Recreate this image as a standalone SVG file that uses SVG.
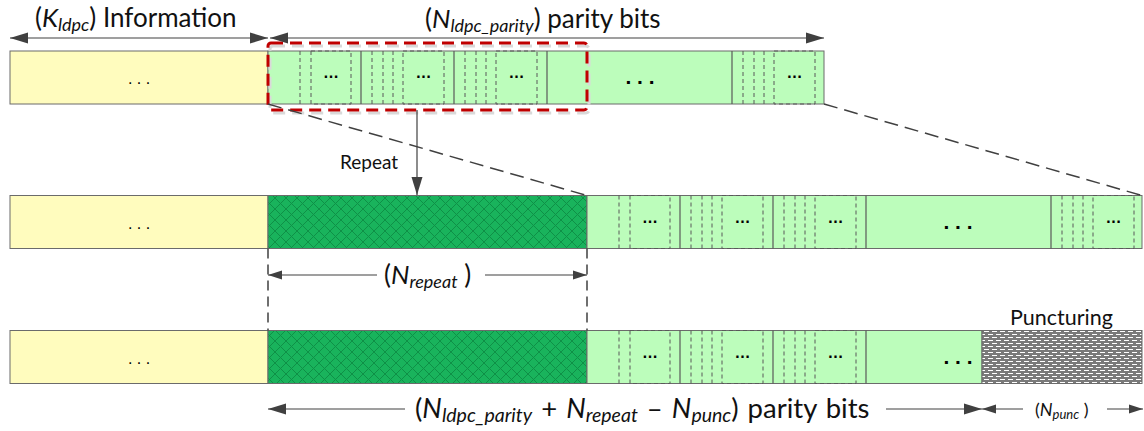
<svg xmlns="http://www.w3.org/2000/svg" xmlns:xlink="http://www.w3.org/1999/xlink" width="1144" height="431" viewBox="0 0 1144 431">
<style>
.bar{stroke:#6b6b6b;stroke-width:1}
.info{fill:#FFFCBE}
.par{fill:#BCFDBB}
.sol{stroke:#595959;stroke-width:1.2;fill:none}
.dsh{stroke:#595959;stroke-width:1;stroke-dasharray:4 3;fill:none}
.lbl{font-family:Lato,"Open Sans",sans-serif;font-size:26px;fill:#111}
.it{font-style:italic}
.sub{font-style:italic;font-size:18px}
.sm{font-family:Lato,"Open Sans",sans-serif;fill:#111}
.dots{font-family:"Liberation Sans",sans-serif;font-weight:bold;font-size:16px;fill:#000;text-anchor:middle}
.bigdots{font-family:"Liberation Sans",sans-serif;font-weight:bold;font-size:21px;fill:#000;text-anchor:middle}
.ydots{font-family:"Liberation Sans",sans-serif;font-size:16px;fill:#000;text-anchor:middle}
.conn{stroke:#404040;stroke-width:1.2;fill:none}
.gd{stroke:#404040;stroke-width:1.5;stroke-dasharray:14 7;fill:none}
</style>
<defs>
<marker id="ah" markerUnits="userSpaceOnUse" markerWidth="18" markerHeight="12" refX="18" refY="6" orient="auto-start-reverse" viewBox="0 0 18 12"><path d="M0,0.5 L18,6 L0,11.5 z" fill="#404040"/></marker>
<marker id="ahs" markerUnits="userSpaceOnUse" markerWidth="14" markerHeight="10" refX="14" refY="5" orient="auto-start-reverse" viewBox="0 0 14 10"><path d="M0,0.5 L14,5 L0,9.5 z" fill="#404040"/></marker>
<pattern id="hatch" patternUnits="userSpaceOnUse" width="11" height="11">
<rect width="11" height="11" fill="#19B35C"/>
<path d="M0,0 L11,11 M11,0 L0,11" stroke="#0F9047" stroke-width="1"/>
</pattern>
<pattern id="punc" patternUnits="userSpaceOnUse" width="8" height="6">
<rect width="8" height="6" fill="#7A7A7A"/>
<rect x="0" y="1" width="5" height="1" fill="#fff"/>
<rect x="4" y="4" width="5" height="1" fill="#fff"/>
<rect x="-4" y="4" width="5" height="1" fill="#fff"/>
</pattern>
<g id="blkA">
<path class="dsh" d="M32,0 V53"/>
<rect class="dsh" x="43" y="0" width="40" height="53"/>
<path class="sol" d="M93,0 V53"/>
<text class="dots" x="63" y="27">…</text>
</g>
<g id="blkB">
<path class="dsh" d="M11,0 V53 M22,0 V53 M32,0 V53"/>
<rect class="dsh" x="42" y="0" width="41" height="53"/>
<path class="sol" d="M93,0 V53"/>
<text class="dots" x="62.5" y="27">…</text>
</g>
<g id="blkC">
<path class="dsh" d="M11,0 V53 M22,0 V53 M32,0 V53"/>
<rect class="dsh" x="42" y="0" width="41" height="53"/>
<text class="dots" x="62.5" y="27">…</text>
</g>
</defs>

<g id="row1">
<rect class="bar info" x="10" y="51" width="258" height="53"/>
<rect class="bar par" x="268" y="51" width="556" height="53"/>
<text class="ydots" x="139" y="84">. . .</text>
<use xlink:href="#blkA" x="268" y="51"/>
<use xlink:href="#blkB" x="361" y="51"/>
<use xlink:href="#blkB" x="454" y="51"/>
<text class="bigdots" x="640" y="84">. . .</text>
<path class="sol" d="M732,51 V104"/>
<use xlink:href="#blkC" x="732" y="51"/>
</g>

<g id="row2">
<rect class="bar info" x="10" y="195.5" width="258" height="53"/>
<rect class="bar" x="268" y="195.5" width="319" height="53" fill="url(#hatch)"/>
<rect class="bar par" x="587" y="195.5" width="555" height="53"/>
<text class="ydots" x="139" y="229">. . .</text>
<use xlink:href="#blkA" x="587" y="195.5"/>
<use xlink:href="#blkB" x="680" y="195.5"/>
<use xlink:href="#blkB" x="773" y="195.5"/>
<text class="bigdots" x="958" y="229">. . .</text>
<path class="sol" d="M1051,195.5 V248.5"/>
<use xlink:href="#blkC" x="1051" y="195.5"/>
</g>

<g id="row3">
<rect class="bar info" x="10" y="330.5" width="258" height="53"/>
<rect class="bar" x="268" y="330.5" width="319" height="53" fill="url(#hatch)"/>
<rect class="bar par" x="587" y="330.5" width="395" height="53"/>
<rect class="bar" x="982" y="330.5" width="160" height="53" fill="url(#punc)"/>
<text class="ydots" x="139" y="364">. . .</text>
<use xlink:href="#blkA" x="587" y="330.5"/>
<use xlink:href="#blkB" x="680" y="330.5"/>
<use xlink:href="#blkB" x="773" y="330.5"/>
<text class="bigdots" x="958" y="364">. . .</text>
</g>

<g id="highlight">
<rect x="270" y="46" width="319" height="67" rx="3" fill="none" stroke="#D9D9D9" stroke-width="3" stroke-dasharray="12 7"/>
<rect x="268" y="43" width="319" height="67" rx="3" fill="none" stroke="#C00000" stroke-width="3" stroke-dasharray="12 7"/>
</g>

<g id="connectors">
<path class="conn" d="M10,38 H268" marker-start="url(#ah)" marker-end="url(#ah)"/>
<path class="conn" d="M270,38 H824" marker-start="url(#ah)" marker-end="url(#ah)"/>
<path class="gd" d="M268,104 L587,195.5"/>
<path class="gd" d="M824,104 L1142,195.5"/>
<path class="conn" d="M417,110 V195" marker-end="url(#ah)"/>
<path class="gd" d="M268,248.5 V330.5" style="stroke-dasharray:10 6"/>
<path class="gd" d="M587,248.5 V330.5" style="stroke-dasharray:10 6"/>
<path class="conn" d="M268,275 H377" marker-start="url(#ahs)"/>
<path class="conn" d="M485,275 H587" marker-end="url(#ahs)"/>
<path class="conn" d="M268,409 H405" marker-start="url(#ah)"/>
<path class="conn" d="M886,409 H982" marker-end="url(#ah)"/>
<path class="conn" d="M982,409 H1023" marker-start="url(#ahs)"/>
<path class="conn" d="M1107,409 H1143" marker-end="url(#ahs)"/>
</g>

<g id="labels">
<text class="lbl" x="35" y="27">(<tspan class="it">K</tspan><tspan class="sub" dy="4">ldpc</tspan><tspan dy="-4">) Information</tspan></text>
<text class="lbl" x="425" y="28">(<tspan class="it">N</tspan><tspan class="sub" dy="4">ldpc_parity</tspan><tspan dy="-4">) parity bits</tspan></text>
<text class="sm" x="340" y="169" font-size="19">Repeat</text>
<text class="lbl" x="384" y="284">(<tspan class="it">N</tspan><tspan class="sub" dy="4">repeat</tspan><tspan dy="-4"> )</tspan></text>
<text class="sm" x="1010" y="325" font-size="21.5">Puncturing</text>
<text class="lbl" x="415" y="418" style="font-size:27.5px;word-spacing:2px">(<tspan class="it">N</tspan><tspan class="sub" style="font-size:19.5px" dy="4">ldpc_parity</tspan><tspan dy="-4"> + </tspan><tspan class="it">N</tspan><tspan class="sub" style="font-size:19.5px" dy="4">repeat</tspan><tspan dy="-4"> – </tspan><tspan class="it">N</tspan><tspan class="sub" style="font-size:19.5px" dy="4">punc</tspan><tspan dy="-4">) parity bits</tspan></text>
<text class="sm" x="1035" y="416" font-size="18">(<tspan class="it">N</tspan><tspan font-style="italic" font-size="13" dy="3">punc</tspan><tspan dy="-3"> )</tspan></text>
</g>
</svg>
